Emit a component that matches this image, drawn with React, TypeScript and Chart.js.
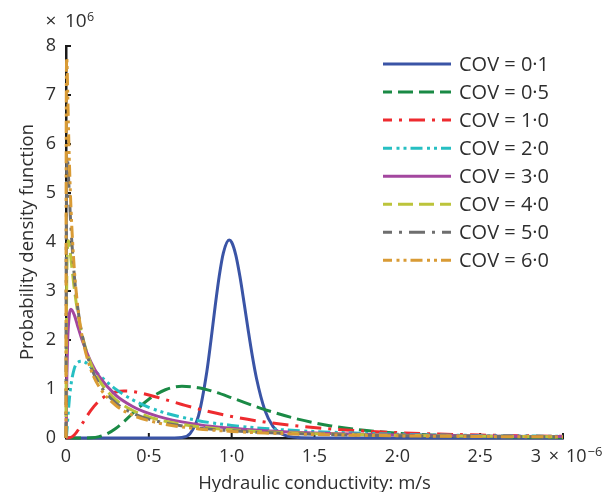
import React, { useEffect, useRef } from 'react';
import { Chart, registerables } from 'chart.js';

Chart.register(...registerables);

// ---------------- data (x in 10^-6 m/s, y in 10^6) ----------------
const seriesLabels = ['COV = 0·1', 'COV = 0·5', 'COV = 1·0', 'COV = 2·0', 'COV = 3·0', 'COV = 4·0', 'COV = 5·0', 'COV = 6·0'];

const cov01X = [0, 0.6, 0.65, 0.7, 0.75, 0.8, 0.85, 0.875, 0.9, 0.925, 0.95, 0.985, 1.0, 1.025, 1.05, 1.075, 1.1, 1.125, 1.15, 1.2, 1.25, 1.3, 1.35, 1.4, 1.5, 3.0];
const cov01Y = [0, 0, 0.001, 0.011, 0.096, 0.457, 1.352, 1.992, 2.679, 3.308, 3.78, 4.04, 3.995, 3.733, 3.294, 2.755, 2.194, 1.667, 1.214, 0.572, 0.234, 0.085, 0.028, 0.008, 0.001, 0];

const cov05X = [0, 0.1, 0.15, 0.2, 0.25, 0.3, 0.35, 0.4, 0.5, 0.6, 0.7, 0.8, 0.9, 1.0, 1.2, 1.4, 1.6, 1.8, 2.0, 2.25, 2.5, 2.75, 3.0];
const cov05Y = [0, 0.0002, 0.004, 0.028, 0.089, 0.194, 0.336, 0.495, 0.792, 0.985, 1.054, 1.027, 0.938, 0.821, 0.58, 0.385, 0.247, 0.157, 0.099, 0.056, 0.032, 0.018, 0.011];

const cov10X = [0, 0.02, 0.05, 0.1, 0.15, 0.2, 0.25, 0.3, 0.35, 0.4, 0.5, 0.6, 0.7, 0.8, 1.0, 1.2, 1.4, 1.6, 1.8, 2.0, 2.25, 2.5, 2.75, 3.0];
const cov10Y = [0, 0.003, 0.061, 0.303, 0.564, 0.758, 0.879, 0.94, 0.958, 0.948, 0.879, 0.783, 0.685, 0.592, 0.439, 0.326, 0.244, 0.185, 0.142, 0.11, 0.081, 0.061, 0.046, 0.035];

const cov20X = [0, 0.002, 0.005, 0.01, 0.02, 0.03, 0.05, 0.07, 0.1, 0.15, 0.2, 0.3, 0.4, 0.5, 0.6, 0.8, 1.0, 1.2, 1.5, 2.0, 2.5, 3.0];
const cov20Y = [0, 0.018, 0.119, 0.354, 0.783, 1.085, 1.416, 1.543, 1.566, 1.447, 1.286, 0.998, 0.783, 0.627, 0.51, 0.354, 0.257, 0.194, 0.133, 0.078, 0.05, 0.034];

const cov30X = [0, 0.0005, 0.001, 0.002, 0.005, 0.01, 0.02, 0.03, 0.05, 0.07, 0.1, 0.15, 0.2, 0.3, 0.4, 0.5, 0.6, 0.8, 1.0, 1.2, 1.5, 2.0, 2.5, 3.0];
const cov30Y = [0, 0.063, 0.197, 0.502, 1.256, 1.972, 2.512, 2.627, 2.512, 2.292, 1.972, 1.553, 1.256, 0.876, 0.649, 0.502, 0.401, 0.273, 0.197, 0.149, 0.104, 0.063, 0.042, 0.029];

const cov40X = [0, 0.0002, 0.0005, 0.001, 0.002, 0.005, 0.01, 0.015, 0.02, 0.03, 0.05, 0.07, 0.1, 0.15, 0.2, 0.3, 0.4, 0.5, 0.6, 0.8, 1.0, 1.2, 1.5, 2.0, 2.5, 3.0];
const cov40Y = [0, 0.162, 0.555, 1.159, 2.038, 3.319, 3.941, 4.028, 3.95, 3.655, 3.053, 2.578, 2.064, 1.517, 1.177, 0.784, 0.567, 0.432, 0.342, 0.23, 0.166, 0.126, 0.088, 0.054, 0.036, 0.026];

const cov50X = [0, 0.0002, 0.0005, 0.001, 0.002, 0.004, 0.0075, 0.01, 0.015, 0.02, 0.03, 0.05, 0.07, 0.1, 0.15, 0.2, 0.3, 0.4, 0.5, 0.6, 0.8, 1.0, 1.2, 1.5, 2.0, 2.5, 3.0];
const cov50Y = [0, 0.76, 1.857, 3.07, 4.387, 5.402, 5.747, 5.676, 5.344, 4.966, 4.289, 3.319, 2.683, 2.062, 1.457, 1.105, 0.717, 0.511, 0.386, 0.304, 0.204, 0.147, 0.111, 0.078, 0.048, 0.033, 0.024];

const cov60X = [0, 0.0001, 0.0002, 0.0005, 0.001, 0.002, 0.003, 0.0045, 0.006, 0.01, 0.015, 0.02, 0.03, 0.05, 0.07, 0.1, 0.15, 0.2, 0.3, 0.4, 0.5, 0.6, 0.8, 1.0, 1.2, 1.5, 2.0, 2.5, 3.0];
const cov60Y = [0, 1.06, 2.06, 4.013, 5.708, 7.115, 7.607, 7.768, 7.673, 7.092, 6.328, 5.678, 4.688, 3.451, 2.711, 2.029, 1.398, 1.044, 0.666, 0.47, 0.354, 0.277, 0.186, 0.134, 0.101, 0.071, 0.044, 0.03, 0.022];

const xTicks = [0, 0.5, 1, 1.5, 2, 2.5, 3];
const xTickLabels = ['0', '0·5', '1·0', '1·5', '2·0', '2·5', ''];
const yTicks = [0, 1, 2, 3, 4, 5, 6, 7, 8];
const yTickLabels = ['0', '1', '2', '3', '4', '5', '6', '7', '8'];

const xTitle = 'Hydraulic conductivity: m/s';
const yTitle = 'Probability density function';

// ---------------- styles ----------------
const FONT = '"Open Sans", "Noto Sans", sans-serif';
const TEXT = '#2e2e2e';
const AXIS = '#1a1a1a';
const colors = ['#3a54a6', '#1a8a45', '#ee2b2f', '#26bfc2', '#a3479f', '#bcc43b', '#6e6e6e', '#d99b35'];
const dashA = [15, 6];
const dashB = [16, 7, 3, 7];
const dashC = [12, 4.5, 3, 4, 3, 4];
const dashes = [[], dashA, dashB, dashC, [], dashA, dashB, dashC];
const legendOffsets = [0, 6, 7, 3, 0, 6, 7, 3];

const xs = [cov01X, cov05X, cov10X, cov20X, cov30X, cov40X, cov50X, cov60X];
const ys = [cov01Y, cov05Y, cov10Y, cov20Y, cov30Y, cov40Y, cov50Y, cov60Y];

const decorPlugin = {
  id: 'decor',
  beforeDatasetsDraw(chart: any) {
    const { ctx, chartArea, scales } = chart;
    const x = scales.x;
    const y = scales.y;
    ctx.save();
    ctx.strokeStyle = AXIS;
    ctx.lineWidth = 2;
    x.ticks.forEach((t: any) => {
      const px = x.getPixelForValue(t.value);
      ctx.beginPath();
      ctx.moveTo(px, chartArea.bottom);
      ctx.lineTo(px, chartArea.bottom - 5);
      ctx.stroke();
    });
    y.ticks.forEach((t: any) => {
      const py = y.getPixelForValue(t.value);
      ctx.beginPath();
      ctx.moveTo(chartArea.left, py);
      ctx.lineTo(chartArea.left + 5, py);
      ctx.stroke();
    });
    ctx.restore();
  },
  afterDraw(chart: any) {
    const { ctx, chartArea, scales } = chart;
    const x = scales.x;
    ctx.save();
    ctx.fillStyle = TEXT;

    // x-axis title
    ctx.font = `18.5px ${FONT}`;
    ctx.textAlign = 'center';
    ctx.textBaseline = 'alphabetic';
    ctx.fillText(xTitle, (chartArea.left + chartArea.right) / 2, 489);

    // y-axis title
    ctx.save();
    ctx.translate(33, (chartArea.top + chartArea.bottom) / 2);
    ctx.rotate(-Math.PI / 2);
    ctx.fillText(yTitle, 0, 0);
    ctx.restore();

    // top multiplier  × 10^6
    ctx.font = `19px ${FONT}`;
    ctx.textAlign = 'center';
    ctx.fillText('×', chartArea.left - 15, 26.5);
    ctx.textAlign = 'left';
    ctx.fillText('10', chartArea.left - 1, 26.5);
    ctx.font = `12.5px ${FONT}`;
    ctx.fillText('6', chartArea.left + 21, 20.5);

    // last x tick label 3 × 10^-6
    const p3 = x.getPixelForValue(3);
    ctx.font = `18px ${FONT}`;
    ctx.textAlign = 'center';
    ctx.fillText('3', p3 - 27, 462);
    ctx.fillText('×', p3 - 9, 462);
    ctx.textAlign = 'left';
    ctx.fillText('10', p3 + 3, 462);
    ctx.font = `13px ${FONT}`;
    ctx.fillText('−6', p3 + 24.5, 455.5);

    // legend
    const ds = chart.data.datasets;
    ds.forEach((d: any, i: number) => {
      const ly = 64 + i * 28.05;
      ctx.save();
      ctx.strokeStyle = d.borderColor;
      ctx.lineWidth = 3;
      ctx.setLineDash(d.borderDash || []);
      ctx.lineDashOffset = legendOffsets[i];
      ctx.beginPath();
      ctx.moveTo(383, ly);
      ctx.lineTo(451, ly);
      ctx.stroke();
      ctx.restore();
      ctx.fillStyle = TEXT;
      ctx.font = `20px ${FONT}`;
      ctx.textAlign = 'left';
      ctx.textBaseline = 'alphabetic';
      ctx.fillText(d.label, 459, ly + 7);
    });
    ctx.restore();
  },
};

export default function App() {
  const ref = useRef<HTMLCanvasElement | null>(null);

  useEffect(() => {
    document.body.style.margin = '0';
    const canvas = ref.current;
    if (!canvas) return;
    const datasets = seriesLabels.map((label, i) => ({
      label,
      data: xs[i].map((xv, j) => ({ x: xv, y: ys[i][j] })),
      borderColor: colors[i],
      backgroundColor: colors[i],
      borderWidth: 3,
      borderDash: dashes[i],
      pointRadius: 0,
      fill: false,
      cubicInterpolationMode: 'monotone' as const,
      order: seriesLabels.length - i,
      clip: 4,
    }));
    const chart = new Chart(canvas, {
      type: 'line',
      data: { datasets },
      plugins: [decorPlugin],
      options: {
        responsive: false,
        animation: false,
        devicePixelRatio: 1,
        layout: { padding: { top: 46, right: 47, left: 0, bottom: 0 } },
        plugins: { legend: { display: false }, tooltip: { enabled: false } },
        scales: {
          x: {
            type: 'linear',
            min: 0,
            max: 3,
            afterBuildTicks: (s: any) => {
              s.ticks = xTicks.map((v) => ({ value: v }));
            },
            afterFit: (s: any) => {
              s.height = 54;
            },
            ticks: {
              autoSkip: false,
              maxRotation: 0,
              padding: 8,
              color: TEXT,
              font: { family: FONT, size: 18 },
              callback: (_v: any, i: number) => xTickLabels[i],
            },
            grid: { display: true, drawOnChartArea: false, drawTicks: false },
            border: { display: true, color: AXIS, width: 2.5 },
          },
          y: {
            type: 'linear',
            min: 0,
            max: 8,
            afterBuildTicks: (s: any) => {
              s.ticks = yTicks.map((v) => ({ value: v }));
            },
            afterFit: (s: any) => {
              s.width = 66;
            },
            ticks: {
              autoSkip: false,
              padding: 10,
              color: TEXT,
              font: { family: FONT, size: 18 },
              callback: (_v: any, i: number) => yTickLabels[i],
            },
            grid: { display: true, drawOnChartArea: false, drawTicks: false },
            border: { display: true, color: AXIS, width: 2.5 },
          },
        },
      },
    });
    return () => chart.destroy();
  }, []);

  return (
    <div style={{ width: 610, height: 492, background: '#fff' }}>
      <canvas ref={ref} width={610} height={492} style={{ display: 'block' }} />
    </div>
  );
}
